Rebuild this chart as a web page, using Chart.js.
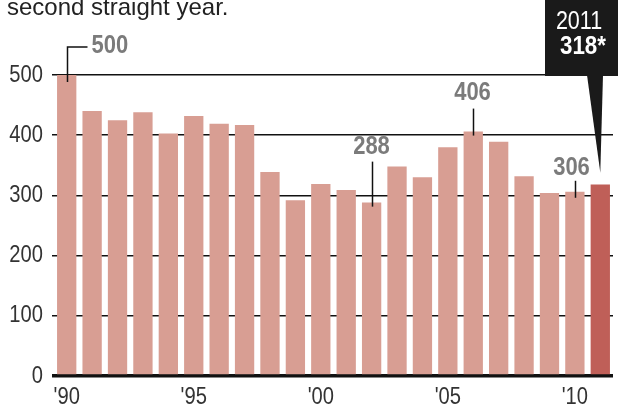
<!DOCTYPE html>
<html>
<head>
<meta charset="utf-8">
<script src="https://cdn.jsdelivr.net/npm/chart.js@4"></script>
<style>
  body { margin: 0; background: #fff; }
  #chart { display: block; }
</style>
</head>
<body>
<canvas id="chart" width="618" height="410"></canvas>
<script>
'use strict';

let years = ['1990', '1991', '1992', '1993', '1994', '1995', '1996', '1997', '1998', '1999', '2000',
  '2001', '2002', '2003', '2004', '2005', '2006', '2007', '2008', '2009', '2010', '2011'];
let totals = [500, 440, 425, 438, 403, 432, 419, 417, 339, 292, 319,
  309, 288, 348, 330, 380, 406, 389, 332, 304, 306, 318];
let yTicks = [0, 100, 200, 300, 400, 500];
let labelledYears = ['1990', '2002', '2006', '2010'];
let highlightYear = '2011';
let headline = 'second straight year.';

const SANS = "'Liberation Sans', Arial, sans-serif";
const BAR = '#d89e93';
const BAR_HI = '#bf5f58';

let canvasElem = document.getElementById('chart');

// no condensed Helvetica here, so squeeze Liberation Sans sideways
function narrowText(ctx, text, x, y, align, squeeze) {
  ctx.save();
  ctx.translate(x, y);
  ctx.scale(squeeze || 0.84, 1);
  ctx.textAlign = align;
  ctx.fillText(text, 0, 0);
  ctx.restore();
}

// tick labels, leader lines, value labels, the 2011 callout box and the cut-off headline
let notes = {
  id: 'notes',
  afterDraw(chart) {
    let ctx = chart.ctx;
    let x = chart.scales.x;
    let y = chart.scales.y;
    ctx.save();

    ctx.fillStyle = '#222';
    ctx.font = '24px ' + SANS;
    ctx.textBaseline = 'alphabetic';
    ctx.textAlign = 'left';
    ctx.fillText(headline, 7, 15);

    // axis labels
    ctx.fillStyle = '#333';
    ctx.font = '24px ' + SANS;
    ctx.textBaseline = 'middle';
    yTicks.forEach(v => narrowText(ctx, String(v), 43, y.getPixelForValue(v), 'right'));
    years.forEach((yr, i) => {
      if (Number(yr) % 5 === 0) {
        narrowText(ctx, "'" + yr.slice(2), x.getPixelForValue(i), 397, 'center');
      }
    });

    ctx.strokeStyle = '#111';
    ctx.lineWidth = 1.5;
    ctx.fillStyle = '#7b7b7b';
    ctx.font = 'bold 25px ' + SANS;

    labelledYears.forEach(yr => {
      let i = years.indexOf(yr);
      let v = totals[i];
      let px = Math.round(x.getPixelForValue(i)) + 0.5;
      let py = y.getPixelForValue(v);
      ctx.beginPath();
      if (i === 0) {
        ctx.moveTo(px, py + 7);
        ctx.lineTo(px, 47);
        ctx.lineTo(px + 20, 47);
        ctx.stroke();
        narrowText(ctx, String(v), px + 24, 46, 'left', 0.88);
      } else if (yr === '2010') {
        ctx.moveTo(px, py + 6);
        ctx.lineTo(px, py - 11);
        ctx.stroke();
        narrowText(ctx, String(v), px - 4, py - 24, 'center', 0.88);
      } else {
        let len = yr === '2002' ? 41 : 23;
        ctx.moveTo(px, py + 4);
        ctx.lineTo(px, py - len);
        ctx.stroke();
        narrowText(ctx, String(v), px - 1, py - len - 15, 'center', 0.88);
      }
    });

    // callout for the latest year
    let hi = years.indexOf(highlightYear);
    let hx = x.getPixelForValue(hi);
    let hy = y.getPixelForValue(totals[hi]);
    ctx.fillStyle = '#1a1a1a';
    ctx.fillRect(545, 0, 73, 76);
    ctx.beginPath();
    ctx.moveTo(587, 75);
    ctx.lineTo(603, 75);
    ctx.lineTo(hx, hy - 12);
    ctx.closePath();
    ctx.fill();
    ctx.fillStyle = '#fff';
    ctx.font = '25px ' + SANS;
    narrowText(ctx, highlightYear, 579, 22, 'center', 0.86);
    ctx.font = 'bold 26px ' + SANS;
    narrowText(ctx, totals[hi] + '*', 583, 47, 'center', 0.86);

    ctx.restore();
  }
};

function renderChart() {
  let data = {
    labels: years,
    datasets: [{
      label: 'Total',
      data: totals,
      backgroundColor: years.map(yr => yr === highlightYear ? BAR_HI : BAR),
      borderWidth: 0,
      barPercentage: 0.76,
      categoryPercentage: 1,
    }],
  };

  let config = {
    type: 'bar',
    data: data,
    options: {
      responsive: false,
      animation: false,
      layout: { padding: { top: 75, right: 5, left: 0, bottom: 0 } },
      plugins: { legend: { display: false }, tooltip: { enabled: false } },
      scales: {
        x: {
          grid: { display: false, drawTicks: false },
          border: { display: false },
          ticks: { display: false },
          afterFit: scale => { scale.height = 34; },
        },
        y: {
          min: 0,
          max: 500,
          z: 1,
          afterBuildTicks: scale => { scale.ticks = yTicks.map(v => ({ value: v })); },
          grid: {
            color: '#111',
            lineWidth: c => (c.tick && c.tick.value === 0 ? 3.5 : 1.5),
            tickLength: 2,
          },
          border: { display: false },
          ticks: { display: false },
          afterFit: scale => { scale.width = 54; },
        },
      },
    },
    plugins: [notes],
  };

  new Chart(canvasElem, config);
}

renderChart();
</script>
</body>
</html>
